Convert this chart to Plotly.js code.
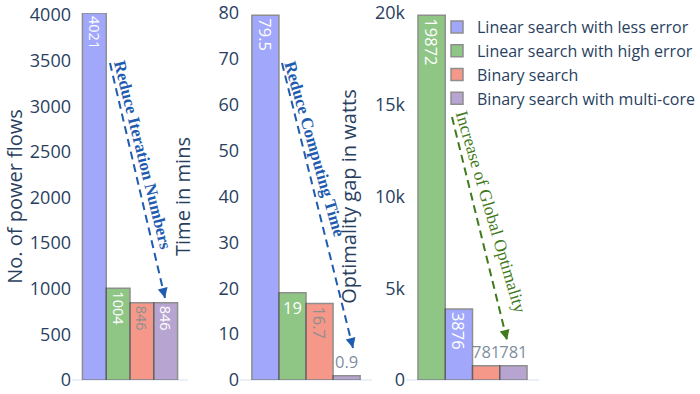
<!DOCTYPE html>
<html>
<head>
<meta charset="utf-8">
<script src="https://cdn.plot.ly/plotly-3.0.1.min.js"></script>
<style>html,body{margin:0;padding:0;background:#fff;}#chart{width:700px;height:394px;}</style>
</head>
<body>
<div id="chart"></div>
<script>
// ---- data ----
const seriesNames = ['Linear search with less error', 'Linear search with high error', 'Binary search', 'Binary search with multi-core'];
const powerFlows = [4021, 1004, 846, 846];          // No. of power flows
const timeMins = [79.5, 19, 16.7, 0.9];              // Time in mins
const optimalityGap = [3876, 19872, 781, 781];       // Optimality gap in watts
const panel3Order = [1, 0, 2, 3];                    // high-error bar drawn first in 3rd panel
const seriesColors = ['#636EFA', '#46A035', '#EF553B', '#8A69B4'];

const W = 700, H = 394, MT = 13, MB = 14;
const px = v => v / W;
const py = v => (H - MB - v) / (H - MT - MB);

const traces = [];
function addPanel(values, order, xa, ya, showLegend, textSize) {
  order.forEach(i => {
    traces.push({
      type: 'bar', x: ['A'], y: [values[i]], text: [String(values[i])],
      textposition: 'auto', constraintext: 'none', name: seriesNames[i],
      showlegend: showLegend, xaxis: xa, yaxis: ya, opacity: 0.6,
      marker: {color: seriesColors[i], line: {color: '#444', width: 1.5}},
      textfont: {size: textSize}, hoverinfo: 'y+name'
    });
  });
}
addPanel(powerFlows, [0, 1, 2, 3], 'x', 'y', true, 14.5);
addPanel(timeMins, [0, 1, 2, 3], 'x2', 'y2', false, 16.5);
addPanel(optimalityGap, panel3Order, 'x3', 'y3', false, 16.5);

const xBase = {showticklabels: false, showgrid: false, zeroline: false, showline: false, ticks: '', range: [-0.5, 0.5]};
const yBase = {showgrid: false, zeroline: true, zerolinecolor: '#EBF0F8', zerolinewidth: 2, showline: false,
  ticks: '', tickfont: {size: 18, color: '#2a3f5f'}};

const blue = '#1f5cb0', green = '#3f7a1c';
const shapes = [], annotations = [];
function arrow(x0, y0, x1, y1, color) {
  const len = Math.hypot(x1 - x0, y1 - y0);
  const ux = (x1 - x0) / len, uy = (y1 - y0) / len;
  shapes.push({type: 'line', xref: 'paper', yref: 'paper', x0: px(x0), y0: py(y0), x1: px(x1), y1: py(y1),
    line: {color: color, width: 2, dash: '8px,5px'}});
  annotations.push({xref: 'paper', yref: 'paper', x: px(x1), y: py(y1), ax: -ux * 8, ay: -uy * 8,
    showarrow: true, arrowhead: 2, arrowsize: 1, arrowwidth: 2, arrowcolor: color, text: '', standoff: 0});
}
function label(text, cx, cy, angle, color, weight, size) {
  annotations.push({xref: 'paper', yref: 'paper', x: px(cx), y: py(cy), xanchor: 'center', yanchor: 'middle',
    text: text, showarrow: false, textangle: angle,
    font: {family: 'Liberation Serif', size: size, color: color, weight: weight}});
}
arrow(110, 63, 165, 298, blue);
label('Reduce Iteration Numbers', 143, 155, 76, blue, 'bold', 17);
arrow(282, 63, 353, 348, blue);
label('Reduce Computing Time', 315, 149, 74, blue, 'bold', 17);
arrow(452, 117, 507, 340, green);
label('Increase of Global Optimality', 491, 212, 73.5, green, 'normal', 17.5);

const layout = {
  width: W, height: H, margin: {l: 0, r: 0, t: MT, b: MB}, paper_bgcolor: '#fff', plot_bgcolor: '#fff',
  font: {family: 'Open Sans', size: 18, color: '#2a3f5f'},
  barmode: 'group', bargap: 0.18, bargroupgap: 0,
  xaxis: Object.assign({}, xBase, {domain: [px(72), px(188)], anchor: 'y'}),
  xaxis2: Object.assign({}, xBase, {domain: [px(240), px(372)], anchor: 'y2'}),
  xaxis3: Object.assign({}, xBase, {domain: [px(406), px(539)], anchor: 'y3'}),
  yaxis: Object.assign({}, yBase, {anchor: 'x', range: [0, 4021], dtick: 500,
    title: {text: 'No. of power flows', font: {size: 20, color: '#2a3f5f'}}}),
  yaxis2: Object.assign({}, yBase, {anchor: 'x2', range: [0, 80], dtick: 10,
    title: {text: 'Time in mins', font: {size: 20, color: '#2a3f5f'}}}),
  yaxis3: Object.assign({}, yBase, {anchor: 'x3', range: [0, 20000], dtick: 5000, tickformat: '~s',
    title: {text: 'Optimality gap in watts', font: {size: 20, color: '#2a3f5f'}}}),
  legend: {x: px(437), y: 1 + 3 / 367, xanchor: 'left', yanchor: 'top', bgcolor: 'rgba(0,0,0,0)',
    font: {size: 16, color: '#2a3f5f'}},
  shapes: shapes, annotations: annotations, showlegend: true
};
Plotly.newPlot('chart', traces, layout, {displayModeBar: false, staticPlot: true});
</script>
</body>
</html>
